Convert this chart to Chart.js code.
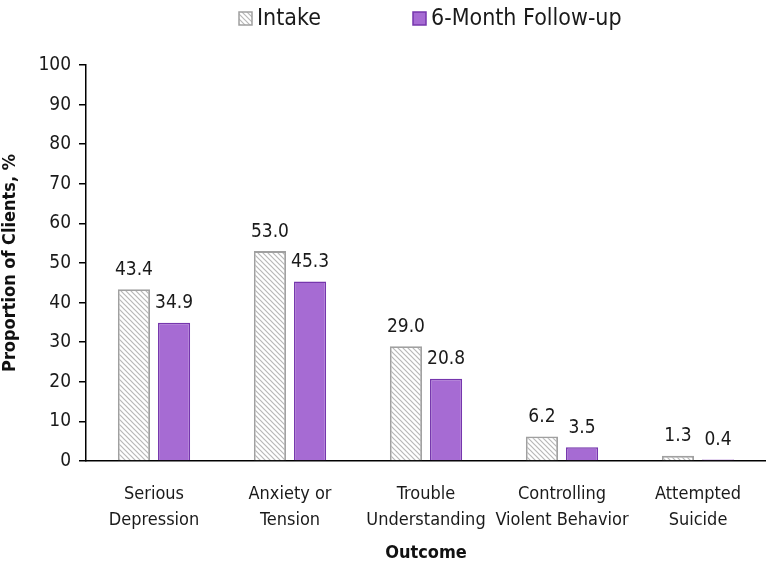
<!DOCTYPE html>
<html>
<head>
<meta charset="utf-8">
<script src="https://cdn.jsdelivr.net/npm/chart.js@4/dist/chart.umd.min.js"></script>
<style>
  html, body { margin: 0; padding: 0; background: #fff; }
  #wrap { width: 766px; height: 564px; position: relative; }
</style>
</head>
<body>
<div id="wrap"><canvas id="chart" width="766" height="564"></canvas></div>
<script>
const categories = [
  ['Serious', 'Depression'],
  ['Anxiety or', 'Tension'],
  ['Trouble', 'Understanding'],
  ['Controlling', 'Violent Behavior'],
  ['Attempted', 'Suicide']
];
const intakeValues = [43.4, 53.0, 29.0, 6.2, 1.3];
const followUpValues = [34.9, 45.3, 20.8, 3.5, 0.4];
const seriesNames = ['Intake', '6-Month Follow-up'];

const FONT = "'Liberation Sans Narrow', 'DejaVu Sans Condensed', 'Open Sans', sans-serif";
const PURPLE = '#a66bd3';
const PURPLE_EDGE = '#7636ad';

// diagonal hatch for the intake bars
function makeHatch() {
  const c = document.createElement('canvas');
  c.width = 5; c.height = 5;
  const g = c.getContext('2d');
  g.fillStyle = '#ffffff';
  g.fillRect(0, 0, 5, 5);
  g.strokeStyle = '#b8b8b8';
  g.lineWidth = 1.2;
  g.beginPath();
  g.moveTo(-1, -1); g.lineTo(6, 6);
  g.moveTo(-1, 4); g.lineTo(1, 6);
  g.moveTo(4, -1); g.lineTo(6, 1);
  g.stroke();
  return g.createPattern(c, 'repeat');
}
const hatch = makeHatch();

const valueLabels = {
  id: 'valueLabels',
  afterDatasetsDraw(chart) {
    const ctx = chart.ctx;
    ctx.save();
    ctx.font = '19px ' + FONT;
    ctx.fillStyle = '#1a1a1a';
    ctx.textAlign = 'center';
    ctx.textBaseline = 'bottom';
    chart.data.datasets.forEach((ds, i) => {
      chart.getDatasetMeta(i).data.forEach((bar, j) => {
        ctx.fillText(ds.data[j].toFixed(1), bar.x, bar.y - 10);
      });
    });
    ctx.restore();
  }
};

const topLegend = {
  id: 'topLegend',
  afterDraw(chart) {
    const ctx = chart.ctx;
    const items = [{ x: 239 }, { x: 413 }];
    ctx.save();
    ctx.font = '23px ' + FONT;
    ctx.textBaseline = 'middle';
    ctx.textAlign = 'left';
    chart.data.datasets.forEach((ds, i) => {
      const x = items[i].x, y = 12;
      ctx.fillStyle = ds.backgroundColor;
      ctx.fillRect(x, y, 13, 13);
      ctx.strokeStyle = ds.borderColor;
      ctx.lineWidth = 1.5;
      ctx.strokeRect(x, y, 13, 13);
      ctx.fillStyle = '#1a1a1a';
      ctx.fillText(ds.label, x + 18, y + 7);
    });
    ctx.restore();
  }
};

new Chart(document.getElementById('chart'), {
  type: 'bar',
  data: {
    labels: categories,
    datasets: [
      {
        label: seriesNames[0],
        data: intakeValues,
        backgroundColor: hatch,
        borderColor: '#a0a0a0',
        borderWidth: 1.8
      },
      {
        label: seriesNames[1],
        data: followUpValues,
        backgroundColor: PURPLE,
        borderColor: PURPLE_EDGE,
        borderWidth: 1.5
      }
    ]
  },
  options: {
    responsive: false,
    animation: false,
    layout: { padding: { top: 65, right: 0, left: 0, bottom: 0 } },
    datasets: { bar: { barPercentage: 0.8, categoryPercentage: 0.59 } },
    scales: {
      x: {
        grid: { display: false },
        border: { color: '#000', width: 1.5 },
        ticks: {
          color: '#1a1a1a',
          font: { family: FONT, size: 18, lineHeight: 1.45 },
          padding: 12,
          maxRotation: 0,
          autoSkip: false
        },
        title: {
          display: true,
          text: 'Outcome',
          color: '#111',
          font: { family: FONT, size: 18, weight: 'bold' },
          padding: { top: 2, bottom: 0 }
        },
        afterFit(scale) { scale.height = 564 - 461; }
      },
      y: {
        min: 0,
        max: 100,
        ticks: {
          stepSize: 10,
          color: '#1a1a1a',
          font: { family: FONT, size: 19 },
          padding: 8
        },
        grid: {
          drawOnChartArea: false,
          drawTicks: true,
          tickLength: 7,
          color: '#000',
          lineWidth: 1.5
        },
        border: { color: '#000', width: 1.5 },
        title: {
          display: true,
          text: 'Proportion of Clients, %',
          color: '#111',
          font: { family: FONT, size: 18, weight: 'bold' },
          padding: { top: 0, bottom: 4 }
        },
        afterFit(scale) { scale.width = 86; }
      }
    },
    plugins: {
      legend: { display: false },
      tooltip: { enabled: false }
    }
  },
  plugins: [valueLabels, topLegend]
});
</script>
</body>
</html>
